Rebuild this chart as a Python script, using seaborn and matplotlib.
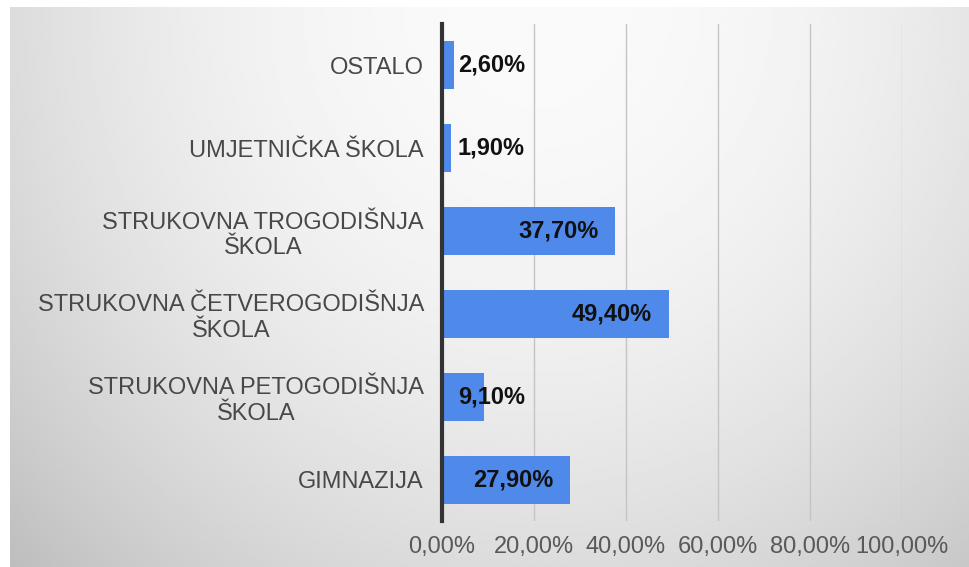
import numpy as np
import pandas as pd
import matplotlib
matplotlib.use("Agg")
import matplotlib.pyplot as plt
import seaborn as sns

# Data (top to bottom as drawn)
categories = [
    "OSTALO",
    "UMJETNIČKA ŠKOLA",
    "STRUKOVNA TROGODIŠNJA\nŠKOLA",
    "STRUKOVNA ČETVEROGODIŠNJA\nŠKOLA",
    "STRUKOVNA PETOGODIŠNJA\nŠKOLA",
    "GIMNAZIJA",
]
values = [2.6, 1.9, 37.7, 49.4, 9.1, 27.9]
tick_values = [0, 20, 40, 60, 80, 100]
tick_labels = ["0,00%", "20,00%", "40,00%", "60,00%", "80,00%", "100,00%"]

df = pd.DataFrame({"Category": categories, "Value": values})

sns.set_style("white")
plt.rcParams["font.family"] = ["Liberation Sans", "DejaVu Sans"]

fig = plt.figure(figsize=(9.7, 5.67), dpi=100)
fig.patch.set_facecolor("white")

# grey gradient background panel
bg = fig.add_axes([10 / 970, 0, 1 - 10 / 970, 1 - 7 / 567])
xx, yy = np.meshgrid(np.linspace(0, 1, 300), np.linspace(0, 1, 200))
shade = (250 - 100 * (xx - 0.55) ** 2 - 30 * yy ** 2) / 255
bg.imshow(shade, cmap="gray", vmin=0, vmax=1, aspect="auto",
          extent=[0, 1, 1, 0], interpolation="bilinear")
bg.set_axis_off()

ax = fig.add_axes([442 / 970, 1 - 521 / 567, 460 / 970, 497 / 567])
ax.patch.set_alpha(0)

sns.barplot(data=df, x="Value", y="Category", orient="h", color="#4f8aeb",
            saturation=1, width=0.58, linewidth=0, ax=ax, zorder=2)

ax.set_xlim(0, 100)
ax.set_ylim(5.5, -0.5)
ax.set_xticks(tick_values, labels=tick_labels)
ax.set_yticks(range(len(categories)), labels=categories)
ax.set_xlabel("")
ax.set_ylabel("")
ax.grid(axis="x", color="#c4c4c4", linewidth=1, zorder=0)
ax.set_axisbelow(True)

for s in ["top", "right", "bottom"]:
    ax.spines[s].set_visible(False)
ax.spines["left"].set_color("#333333")
ax.spines["left"].set_linewidth(3)
ax.spines["left"].set_zorder(3)

ax.tick_params(axis="x", length=0, pad=11, labelsize=17, labelcolor="#595959")
ax.tick_params(axis="y", length=0, pad=13, labelsize=17, labelcolor="#484848")

# value labels: inside end for long bars, just past the axis for short ones
for i, v in enumerate(values):
    txt = f"{v:.2f}%".replace(".", ",")
    if v < 20:
        ax.text(3.4, i, txt, ha="left", va="center", fontsize=17,
                fontweight="bold", color="#111111", zorder=4)
    else:
        ax.text(v - 3.7, i, txt, ha="right", va="center", fontsize=17,
                fontweight="bold", color="#111111", zorder=4)

# center the wrapped category names (ticks exist only after a draw)
fig.canvas.draw()
for lbl in ax.get_yticklabels():
    lbl.set_multialignment("center")
    lbl.set_linespacing(1.2)

fig.savefig("out.png", dpi=100)
